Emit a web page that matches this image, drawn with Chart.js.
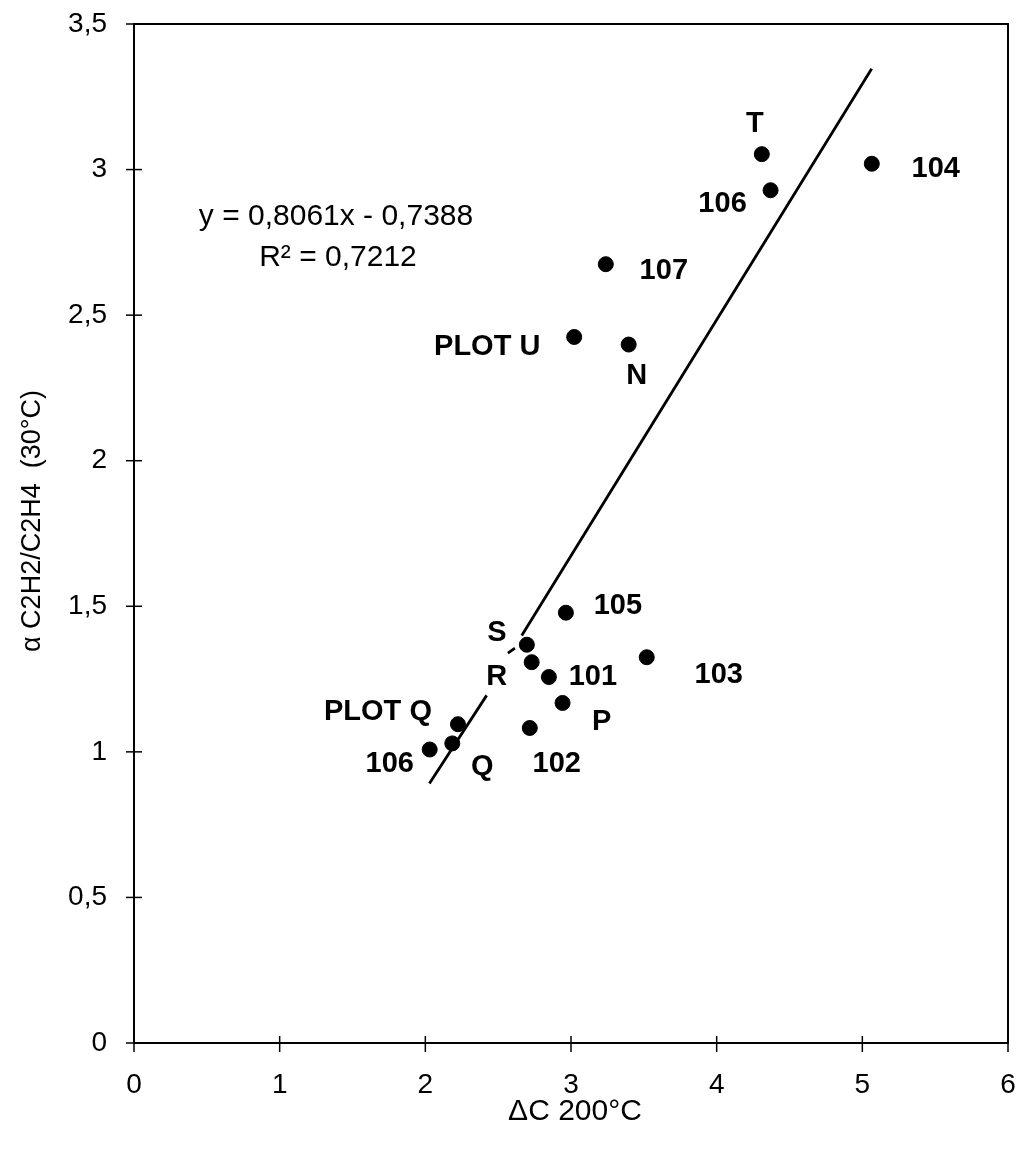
<!DOCTYPE html>
<html>
<head>
<meta charset="utf-8">
<script src="https://cdn.jsdelivr.net/npm/chart.js@4"></script>
<style>
  body { margin: 0; background: #fff; overflow: hidden; }
  #wrap { width: 1022px; height: 1152px; position: relative; }
</style>
</head>
<body>
<div id="wrap"><canvas id="chart"></canvas></div>
<script>
// samples: delta C at 200°C vs alpha C2H2/C2H4 at 30°C
const pointNames = ['T', '106', '104', '107', 'PLOT U', 'N', '105', 'S', 'R', '101', '103', 'P', '102', 'PLOT Q', 'Q', '106'];
const xValues = [4.31, 4.37, 5.065, 3.239, 3.022, 3.396, 2.965, 2.697, 2.730, 2.848, 3.520, 2.942, 2.717, 2.224, 2.185, 2.030];
const yValues = [3.053, 2.929, 3.020, 2.675, 2.425, 2.399, 1.478, 1.368, 1.308, 1.257, 1.325, 1.168, 1.082, 1.095, 1.029, 1.008];

// linear trend as drawn (broken where the labels sit), null = gap
const trendX = [2.028, 2.421, 2.49, 2.567, 2.615, 2.64, 2.662, 5.064];
const trendY = [0.891, 1.194, null, 1.339, 1.356, null, 1.400, 3.346];

const xTicks = [0, 1, 2, 3, 4, 5, 6];
const yTicks = [0, 0.5, 1, 1.5, 2, 2.5, 3, 3.5];

const equationText = 'y = 0,8061x - 0,7388';
const r2Text = 'R² = 0,7212';
const xTitle = 'ΔC 200°C';
const yTitle = 'α C2H2/C2H4  (30°C)';

// label offsets from each point, in px
const labelOffsets = [[-7, -30], [-48, 14], [64, 5], [58, 7], [-87, 10], [8, 31], [52, -7], [-30, -12],
  [-35, 15], [44, 0], [72, 18], [39, 19], [27, 36], [-80, -12], [30, 24], [-40, 14]];

const FONT = "'Liberation Sans', Arial, sans-serif";
const fmt = v => String(v).replace('.', ',');

const decorPlugin = {
    id: 'decor',
    afterDraw(chart) {
        const ctx = chart.ctx;
        const area = chart.chartArea;
        const xs = chart.scales.x;
        const ys = chart.scales.y;
        ctx.save();
        ctx.strokeStyle = '#000';
        ctx.lineWidth = 2;
        ctx.strokeRect(area.left, area.top, area.right - area.left, area.bottom - area.top);

        ctx.fillStyle = '#000';
        ctx.textBaseline = 'middle';
        ctx.font = '28px ' + FONT;

        // tick marks crossing the axes + tick labels
        ctx.lineWidth = 1.5;
        ctx.textAlign = 'right';
        yTicks.forEach(v => {
            const py = ys.getPixelForValue(v);
            ctx.beginPath();
            ctx.moveTo(area.left - 8, py);
            ctx.lineTo(area.left + 8, py);
            ctx.stroke();
            ctx.fillText(fmt(v), area.left - 27, py);
        });
        ctx.textAlign = 'center';
        xTicks.forEach(v => {
            const px = xs.getPixelForValue(v);
            ctx.beginPath();
            ctx.moveTo(px, area.bottom - 7);
            ctx.lineTo(px, area.bottom + 9);
            ctx.stroke();
            ctx.fillText(fmt(v), px, area.bottom + 42);
        });

        // point labels
        ctx.font = 'bold 29px ' + FONT;
        pointNames.forEach((name, i) => {
            const px = xs.getPixelForValue(xValues[i]) + labelOffsets[i][0];
            const py = ys.getPixelForValue(yValues[i]) + labelOffsets[i][1];
            ctx.fillText(name, px, py);
        });

        // regression text
        ctx.font = '30px ' + FONT;
        ctx.fillText(equationText, 336, 217);
        ctx.fillText(r2Text, 338, 258);

        // axis titles
        ctx.font = '30px ' + FONT;
        ctx.fillText(xTitle, 575, 1112);
        ctx.font = '27px ' + FONT;
        ctx.translate(33, 521);
        ctx.rotate(-Math.PI / 2);
        ctx.fillText(yTitle, 0, 0);
        ctx.restore();
    }
};

new Chart(document.getElementById('chart'), {
    type: 'scatter',
    data: {
        datasets: [
            {
                label: 'samples',
                data: xValues.map((x, i) => ({ x: x, y: yValues[i] })),
                backgroundColor: '#000',
                borderColor: '#000',
                pointRadius: 7.5,
                pointHoverRadius: 7.5
            },
            {
                label: 'trend',
                type: 'line',
                data: trendX.map((x, i) => ({ x: x, y: trendY[i] })),
                borderColor: '#000',
                borderWidth: 2.8,
                pointRadius: 0,
                spanGaps: false,
                fill: false
            }
        ]
    },
    options: {
        responsive: true,
        maintainAspectRatio: false,
        animation: false,
        layout: { padding: { top: 24, right: 14, left: 0, bottom: 0 } },
        plugins: {
            legend: { display: false },
            tooltip: { enabled: false }
        },
        scales: {
            x: {
                type: 'linear',
                min: 0,
                max: 6,
                grid: { display: false, drawTicks: false },
                border: { display: false },
                ticks: { display: false },
                afterFit: scale => { scale.height = 109; }
            },
            y: {
                type: 'linear',
                min: 0,
                max: 3.5,
                grid: { display: false, drawTicks: false },
                border: { display: false },
                ticks: { display: false },
                afterFit: scale => { scale.width = 134; }
            }
        }
    },
    plugins: [decorPlugin]
});
</script>
</body>
</html>
